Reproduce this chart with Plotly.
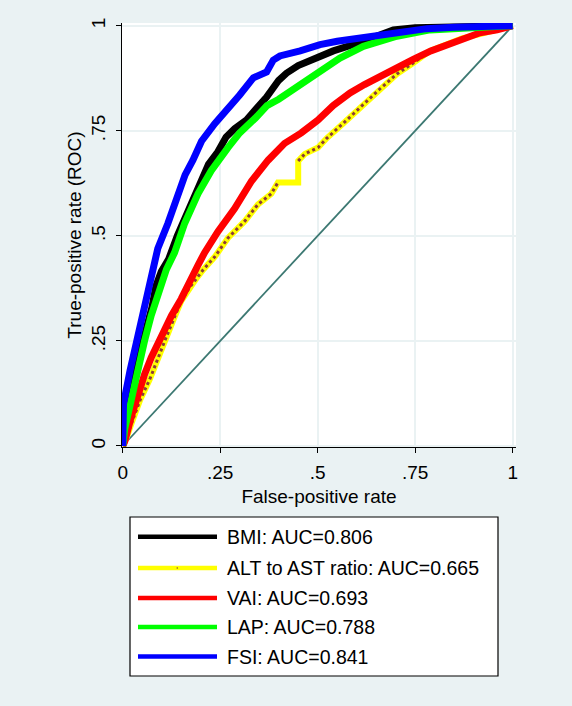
import plotly.graph_objects as go

# ---- data ----
ticks = [0, 0.25, 0.5, 0.75, 1]
tick_labels = ["0", ".25", ".5", ".75", "1"]

bmi_fpr = [0, 0, 0.01, 0.02, 0.035, 0.048, 0.062, 0.075, 0.085, 0.099, 0.118, 0.14, 0.159, 0.18,
           0.202, 0.22, 0.244, 0.265, 0.287, 0.318, 0.34, 0.369, 0.40, 0.42, 0.45, 0.489, 0.54,
           0.608, 0.65, 0.694, 0.75, 0.85, 1]
bmi_tpr = [0, 0.06, 0.09, 0.13, 0.18, 0.228, 0.285, 0.33, 0.38, 0.415, 0.445, 0.50, 0.54, 0.59,
           0.633, 0.67, 0.70, 0.735, 0.755, 0.776, 0.80, 0.83, 0.87, 0.887, 0.905, 0.92, 0.94,
           0.96, 0.975, 0.99, 0.995, 0.997, 1]

alt_fpr = [0, 0.01, 0.025, 0.045, 0.07, 0.09, 0.11, 0.13, 0.15, 0.17, 0.19, 0.207, 0.236, 0.27,
           0.313, 0.347, 0.381, 0.398, 0.45, 0.45, 0.467, 0.501, 0.523, 0.566, 0.608, 0.66,
           0.703, 0.745, 0.788, 0.83, 0.87, 0.916, 0.96, 1]
alt_tpr = [0, 0.02, 0.06, 0.11, 0.16, 0.21, 0.255, 0.30, 0.345, 0.375, 0.40, 0.42, 0.45, 0.495,
           0.535, 0.575, 0.60, 0.627, 0.627, 0.678, 0.695, 0.71, 0.732, 0.768, 0.805, 0.85,
           0.885, 0.911, 0.94, 0.955, 0.97, 0.98, 0.99, 1]
alt_jump_start = 17  # index where the flat/vertical step (no markers) begins

vai_fpr = [0, 0.005, 0.022, 0.039, 0.056, 0.073, 0.091, 0.108, 0.125, 0.15, 0.167, 0.193, 0.21,
           0.244, 0.287, 0.33, 0.373, 0.415, 0.458, 0.50, 0.54, 0.583, 0.62, 0.66, 0.70, 0.745,
           0.79, 0.831, 0.875, 0.916, 0.96, 1]
vai_tpr = [0, 0.01, 0.07, 0.125, 0.17, 0.21, 0.245, 0.275, 0.31, 0.35, 0.385, 0.43, 0.46, 0.51,
           0.565, 0.63, 0.68, 0.72, 0.745, 0.775, 0.81, 0.84, 0.86, 0.88, 0.90, 0.92, 0.94,
           0.955, 0.97, 0.983, 0.99, 1]

lap_fpr = [0, 0.005, 0.022, 0.039, 0.056, 0.073, 0.091, 0.112, 0.133, 0.159, 0.193, 0.227, 0.27,
           0.30, 0.34, 0.37, 0.40, 0.44, 0.497, 0.532, 0.557, 0.617, 0.677, 0.703, 0.788, 0.9, 1]
lap_tpr = [0, 0.04, 0.11, 0.19, 0.25, 0.31, 0.36, 0.42, 0.46, 0.53, 0.60, 0.655, 0.71, 0.745,
           0.78, 0.81, 0.825, 0.85, 0.89, 0.91, 0.923, 0.951, 0.97, 0.975, 0.99, 0.997, 1]

fsi_fpr = [0, 0.002, 0.019, 0.044, 0.07, 0.09, 0.116, 0.142, 0.16, 0.18, 0.202, 0.236, 0.27, 0.30,
           0.335, 0.369, 0.386, 0.403, 0.455, 0.506, 0.55, 0.60, 0.66, 0.71, 0.78, 0.85, 0.92, 1]
fsi_tpr = [0, 0.10, 0.18, 0.284, 0.379, 0.47, 0.53, 0.605, 0.645, 0.68, 0.725, 0.767, 0.80, 0.835,
           0.876, 0.89, 0.918, 0.928, 0.94, 0.955, 0.963, 0.97, 0.979, 0.985, 0.993, 0.996, 0.998, 1]

ref_line = [0, 1]

names = ["BMI: AUC=0.806", "ALT to AST ratio: AUC=0.665", "VAI: AUC=0.693",
         "LAP: AUC=0.788", "FSI: AUC=0.841"]
colors = ["#000000", "#FFFF00", "#FF0000", "#00FF00", "#0000FF"]
BROWN = "#8B3A3A"
BG = "#EAF2F3"
FONT = "Liberation Sans, Arial, sans-serif"

fig = go.Figure()
fig.add_trace(go.Scatter(x=ref_line, y=ref_line, mode="lines",
                         line=dict(color="#3C7872", width=1.8), showlegend=False, hoverinfo="skip"))
fig.add_trace(go.Scatter(x=bmi_fpr, y=bmi_tpr, mode="lines", name=names[0],
                         line=dict(color=colors[0], width=7), showlegend=False))
fig.add_trace(go.Scatter(x=alt_fpr, y=alt_tpr, mode="lines", name=names[1],
                         line=dict(color=colors[1], width=6), showlegend=False))
dots_x = alt_fpr[:alt_jump_start + 1] + [None] + alt_fpr[alt_jump_start + 2:]
dots_y = alt_tpr[:alt_jump_start + 1] + [None] + alt_tpr[alt_jump_start + 2:]
fig.add_trace(go.Scatter(x=dots_x, y=dots_y, mode="lines", connectgaps=False,
                         line=dict(color=BROWN, width=3, dash="dot"), showlegend=False,
                         hoverinfo="skip"))
fig.add_trace(go.Scatter(x=vai_fpr, y=vai_tpr, mode="lines", name=names[2],
                         line=dict(color=colors[2], width=7), showlegend=False))
fig.add_trace(go.Scatter(x=lap_fpr, y=lap_tpr, mode="lines", name=names[3],
                         line=dict(color=colors[3], width=7), showlegend=False))
fig.add_trace(go.Scatter(x=fsi_fpr, y=fsi_tpr, mode="lines", name=names[4],
                         line=dict(color=colors[4], width=7), showlegend=False))

# ---- layout ----
W, H = 572, 706
ML, MR, MT, MB = 122, 56, 23, 259
PW, PH = W - ML - MR, H - MT - MB


def px2x(px):
    return (px - ML) / PW


def py2y(py):
    return (MT + PH - py) / PH


axis_common = dict(
    tickvals=ticks, ticktext=tick_labels, showgrid=True, gridcolor=BG, gridwidth=1.5,
    zeroline=False, showline=True, linecolor="#000000", linewidth=1.2,
    ticks="outside", ticklen=5, tickcolor="#000000", tickwidth=1,
    tickfont=dict(family=FONT, size=19, color="#000000"),
)

fig.update_layout(
    width=W, height=H,
    margin=dict(l=ML, r=MR, t=MT, b=MB, autoexpand=False),
    paper_bgcolor=BG, plot_bgcolor="#FFFFFF",
    xaxis=dict(range=[-0.0018, 1.0085], ticklabelstandoff=3, **axis_common,
               title=dict(text="False-positive rate", font=dict(family=FONT, size=19, color="#000000"),
                          standoff=7)),
    yaxis=dict(range=[-0.0024, 1.0064], tickangle=-90, ticklabelstandoff=3, **axis_common,
               title=dict(text="True-positive rate (ROC)", font=dict(family=FONT, size=19, color="#000000"),
                          standoff=1)),
    showlegend=False,
)

# ---- legend box (drawn manually to match the reference layout) ----
shapes = [dict(type="rect", xref="paper", yref="paper",
               x0=px2x(130), x1=px2x(498), y0=py2y(676), y1=py2y(517),
               fillcolor="#FFFFFF", line=dict(color="#000000", width=1.2), layer="above")]
row_y = [536.7, 568, 598, 627, 656.5]
annotations = []
for name, col, ry in zip(names, colors, row_y):
    shapes.append(dict(type="line", xref="paper", yref="paper",
                       x0=px2x(138), x1=px2x(217), y0=py2y(ry), y1=py2y(ry),
                       line=dict(color=col, width=4.5), layer="above"))
    annotations.append(dict(xref="paper", yref="paper", x=px2x(225), y=py2y(ry),
                            text=name, showarrow=False, xanchor="left", yanchor="middle",
                            font=dict(family=FONT, size=19.5, color="#000000")))
shapes.append(dict(type="circle", xref="paper", yref="paper",
                   x0=px2x(176.5), x1=px2x(178), y0=py2y(row_y[1] + 0.8), y1=py2y(row_y[1] - 0.8),
                   fillcolor=BROWN, line=dict(color=BROWN, width=0), layer="above"))
fig.update_layout(shapes=shapes, annotations=annotations)

fig.write_html("out.html", config={"displayModeBar": False},
               post_script="document.body.style.margin='0';document.body.style.padding='0';"
                           "document.body.style.overflow='hidden';")
